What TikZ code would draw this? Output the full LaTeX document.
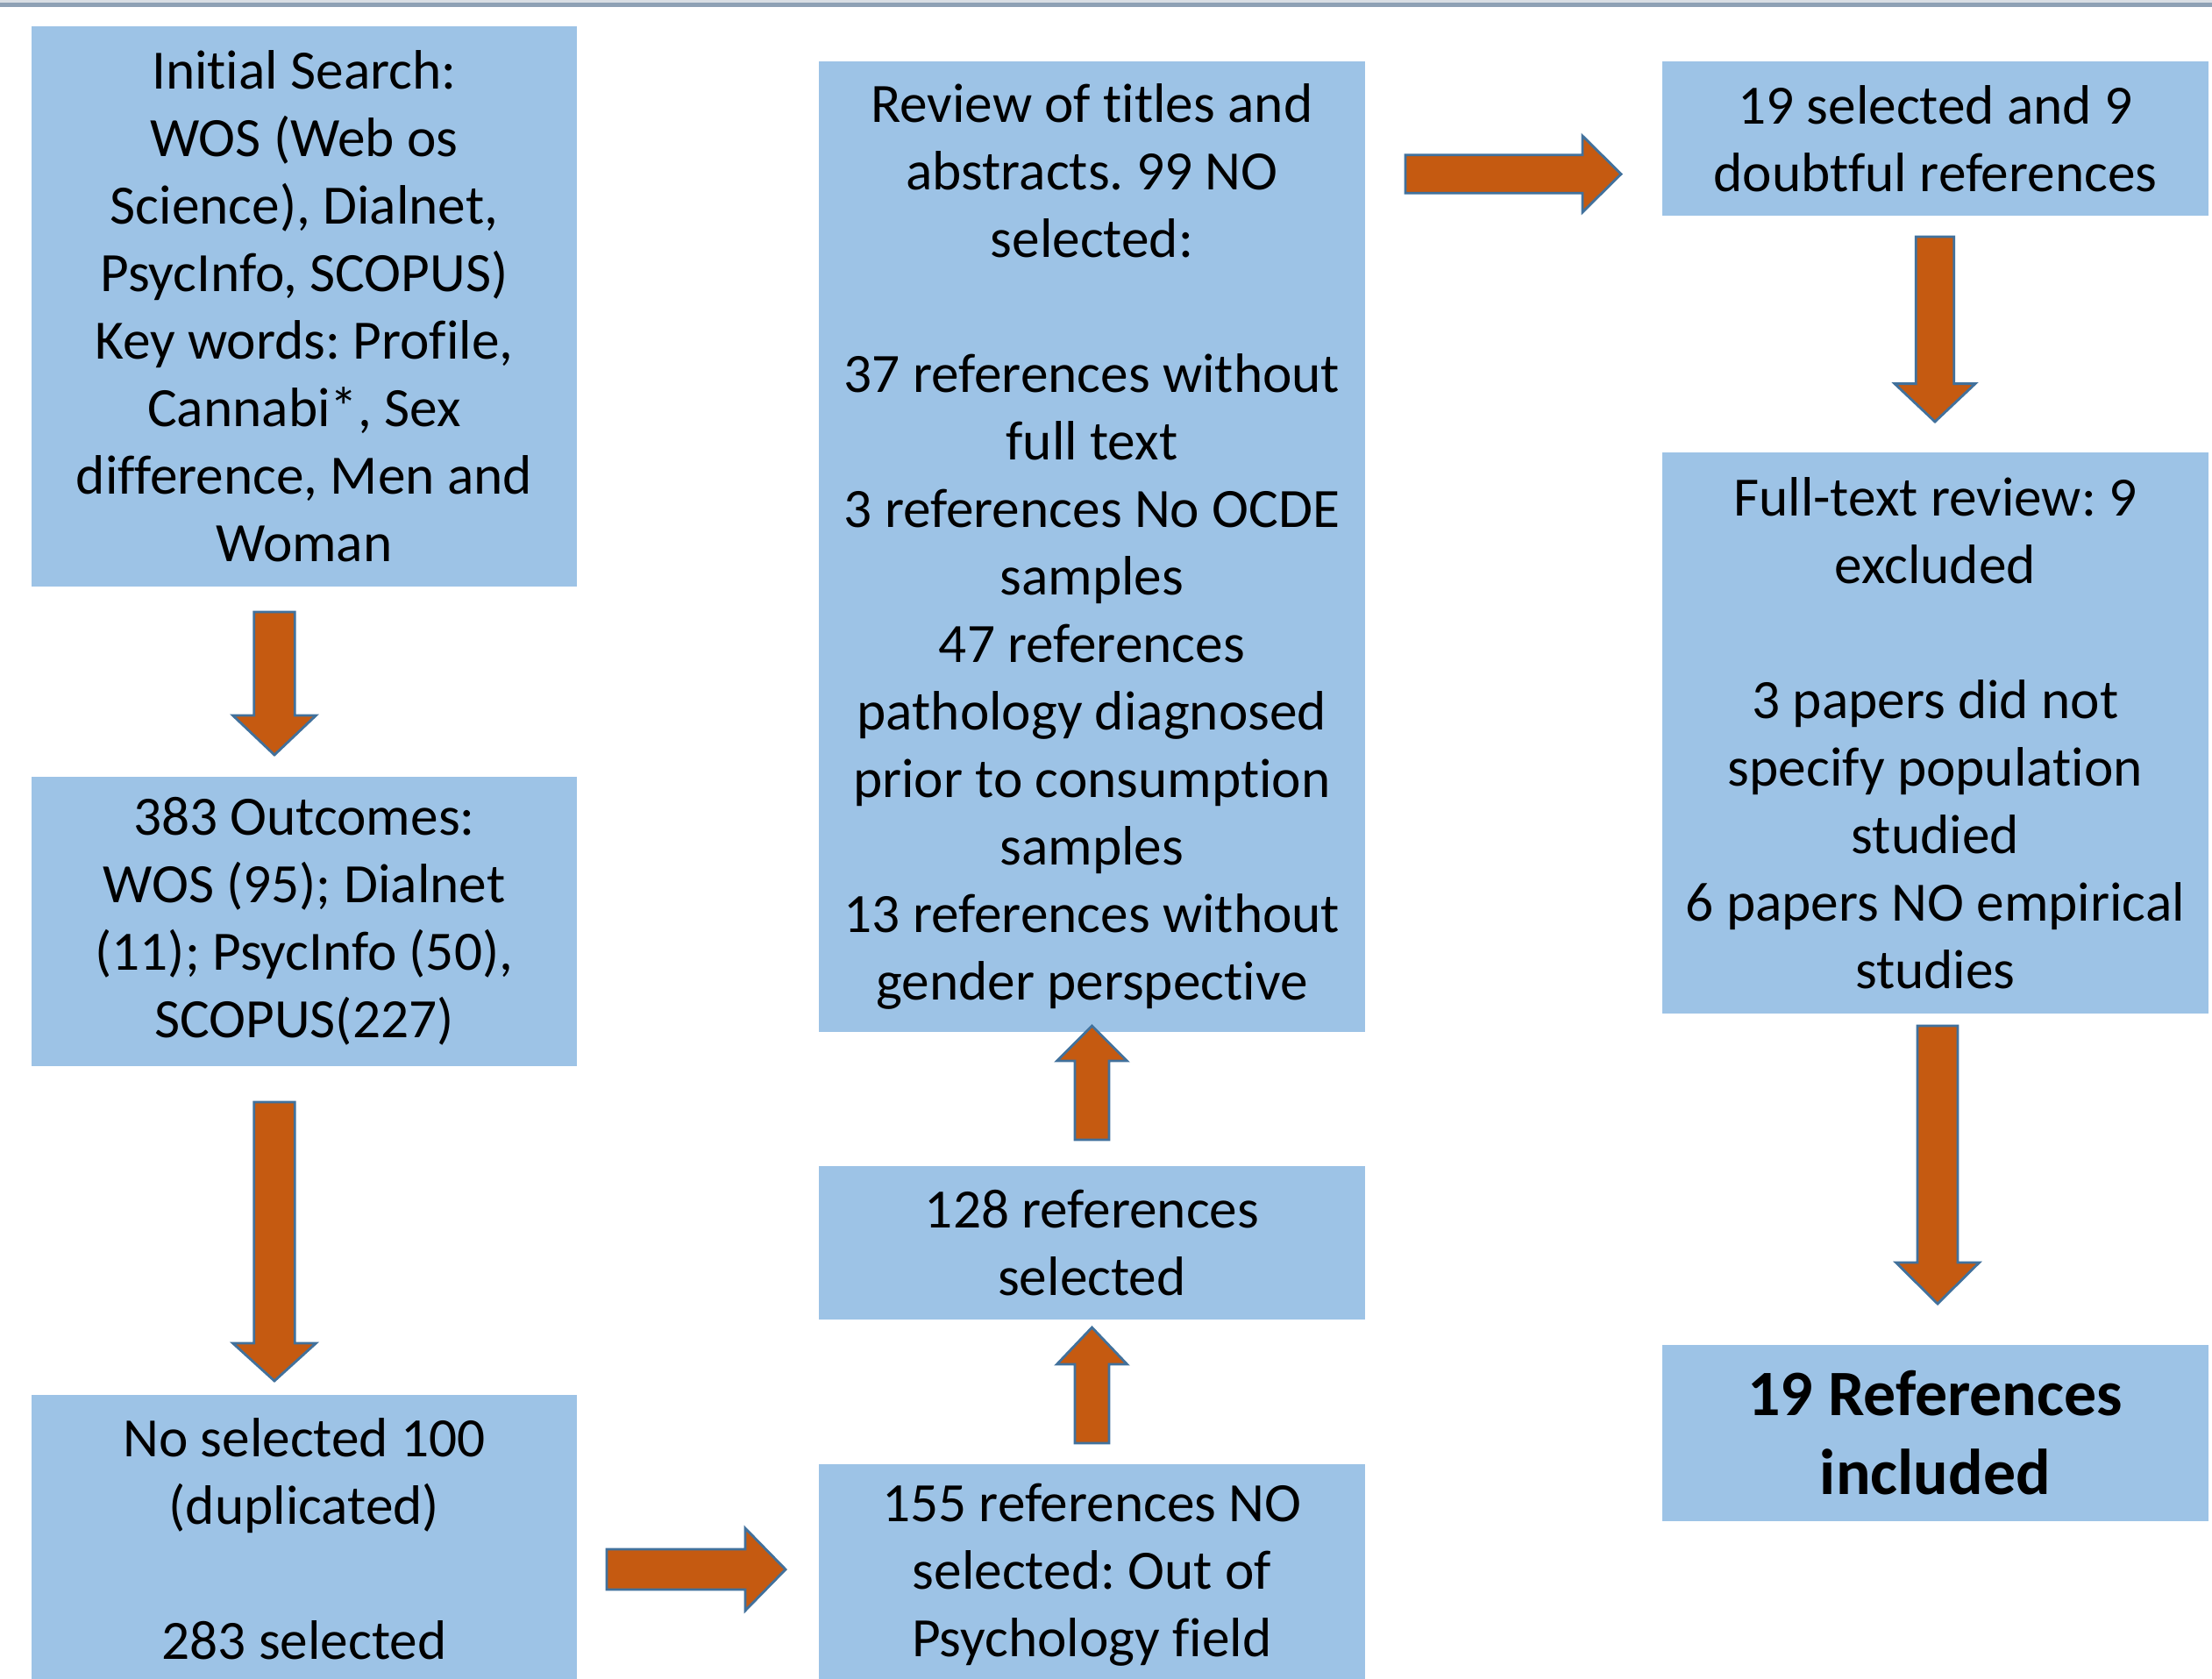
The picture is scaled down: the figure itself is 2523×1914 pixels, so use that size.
\documentclass[tikz,border=0pt]{standalone}
\usepackage{fontspec}
\setmainfont{Carlito}[Ligatures=NoCommon]
\frenchspacing
\definecolor{boxblue}{HTML}{9DC3E6}
\definecolor{arrorange}{HTML}{C55A11}
\definecolor{arrline}{HTML}{41719C}
\definecolor{topline}{HTML}{8EA1B5}
\definecolor{toplight}{HTML}{D9DEE4}
\tikzset{
  box/.style={fill=boxblue, draw=none, anchor=north west, inner sep=0pt,
    minimum width=6.22cm, align=center, text=black,
    font=\fontsize{18}{21.9}\selectfont},
  boldbox/.style={box, font=\fontsize{21}{25.6}\selectfont\bfseries},
  blockarr/.style={fill=arrorange, draw=arrline, line width=0.8pt, line join=miter}
}
\newcommand{\vblock}[6]{%
  \draw[blockarr] ({#1-#5},#2) -- ({#1+#5},#2) -- ({#1+#5},#3) -- ({#1+#6},#3)
    -- (#1,#4) -- ({#1-#6},#3) -- ({#1-#5},#3) -- cycle;}
\newcommand{\hblock}[6]{%
  \draw[blockarr] (#2,{#1-#5}) -- (#3,{#1-#5}) -- (#3,{#1-#6}) -- (#4,#1)
    -- (#3,{#1+#6}) -- (#3,{#1+#5}) -- (#2,{#1+#5}) -- cycle;}
\begin{document}
\begin{tikzpicture}[x=0.01cm, y=-0.01cm]
\useasboundingbox (0,0) rectangle (2523,1914);
\clip (0,0) rectangle (2523,1914);
\fill[white] (0,0) rectangle (2523,1914);
% top rule
\fill[toplight] (0,0) rectangle (2523,3);
\fill[topline] (0,3) rectangle (2523,8);

% boxes
\node[box, minimum height=6.39cm] (A) at (35,29) {Initial Search:\\WOS (Web os\\Science), Dialnet,\\PsycInfo, SCOPUS)\\Key words: Profile,\\Cannabi*, Sex\\difference, Men and\\Woman};
\node[box, minimum height=3.30cm] (B) at (35,885) {383 Outcomes:\\WOS (95); Dialnet\\(11); PsycInfo (50),\\SCOPUS(227)};
\node[box, minimum height=3.29cm] (C) at (35,1590) {No selected 100\\(duplicated)\\[21.9pt]283 selected};
\node[box, minimum width=6.23cm, minimum height=11.07cm] (D) at (933,69) {Review of titles and\\abstracts. 99 NO\\selected:\\[21.9pt]37 references without\\full text\\3 references No OCDE\\samples\\47 references\\pathology diagnosed\\prior to consumption\\samples\\13 references without\\gender perspective};
\node[box, minimum width=6.23cm, minimum height=1.75cm] (E) at (933,1329) {128 references\\selected};
\node[box, minimum width=6.23cm, minimum height=2.53cm] (F) at (933,1669) {155 references NO\\selected: Out of\\Psychology field};
\node[box, minimum width=6.23cm, minimum height=1.76cm] (G) at (1895,69) {19 selected and 9\\doubtful references};
\node[box, minimum width=6.23cm, minimum height=6.40cm] (H) at (1895,515) {Full-text review: 9\\excluded\\[21.9pt]3 papers did not\\specify population\\studied\\6 papers NO empirical\\studies};
\node[boldbox, minimum width=6.23cm, minimum height=2.01cm] (I) at (1895,1533) {19 References\\included};

% block arrows
\vblock{313}{698}{816}{861}{23.3}{47.4}
\vblock{313}{1257}{1532}{1575}{23.3}{47.4}
\hblock{1790}{692}{850}{896}{23}{47}
\vblock{1245.5}{1646}{1556}{1514}{19.5}{40}
\vblock{1245.5}{1300}{1210}{1170}{19.5}{40}
\hblock{198.5}{1603}{1805}{1849}{21.7}{43.5}
\vblock{2207}{270}{437.6}{481}{21.7}{46}
\vblock{2210}{1170}{1440}{1487}{23}{47.5}
\end{tikzpicture}
\end{document}
